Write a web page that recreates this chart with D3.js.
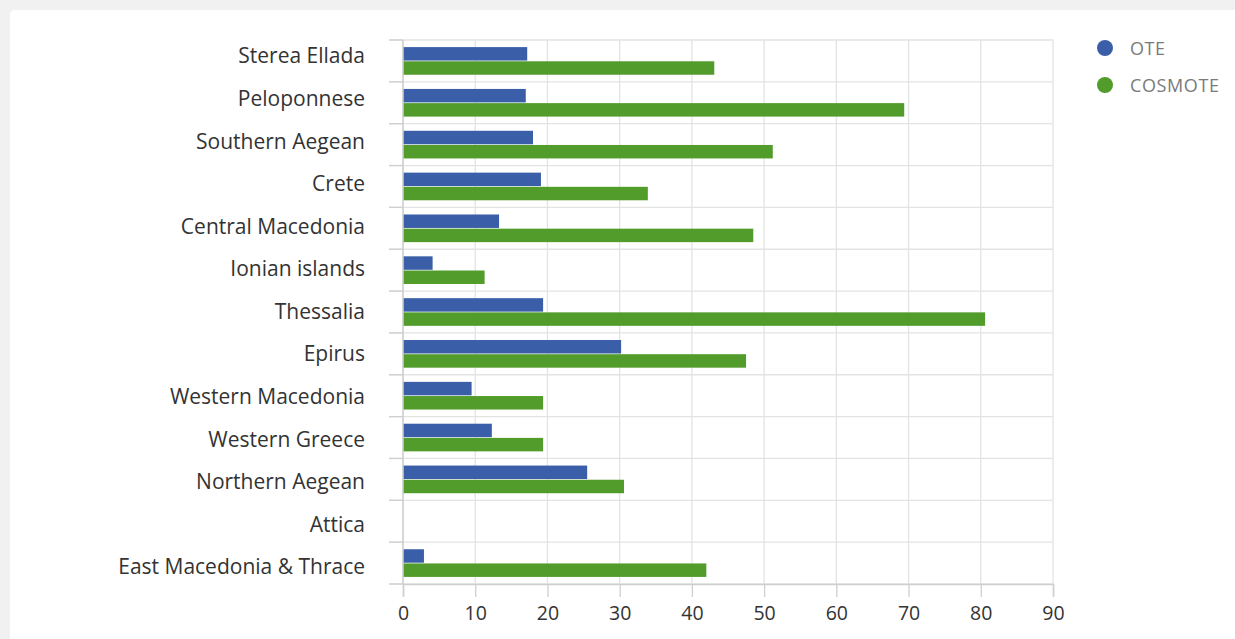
<!DOCTYPE html>
<html><head><meta charset="utf-8">
<script src="https://cdn.jsdelivr.net/npm/d3@7"></script>
<style>
html,body{margin:0;padding:0;background:#f1f1f1;overflow:hidden;}
svg{display:block;}
</style></head>
<body>
<svg id="c" width="1235" height="639"></svg>
<script>
const categories = ["Sterea Ellada","Peloponnese","Southern Aegean","Crete","Central Macedonia","Ionian islands","Thessalia","Epirus","Western Macedonia","Western Greece","Northern Aegean","Attica","East Macedonia & Thrace"];
const seriesNames = ["OTE","COSMOTE"];
const oteValues = [17.2,17.0,18.0,19.1,13.3,4.1,19.4,30.2,9.5,12.3,25.5,0,2.9];
const cosmoteValues = [43.1,69.4,51.2,33.9,48.5,11.3,80.6,47.5,19.4,19.4,30.6,0,42.0];
const xTicks = [0,10,20,30,40,50,60,70,80,90];
const colors = ["#3a5fa8","#519c2a"];

const svg = d3.select("#c");
const FONT = "'Open Sans', sans-serif";
svg.append("rect").attr("x",10).attr("y",10).attr("width",1240).attr("height",660).attr("rx",5).attr("fill","#fff");

const L = 403, R = 1053, T = 40, B = 584;
const x = d3.scaleLinear().domain([0,90]).range([L,R]);
const y = d3.scaleBand().domain(categories).range([T,B]);
const yLabel = d3.scalePoint().domain(categories).range([T+16, B-17]);
const inner = d3.scaleBand().domain(seriesNames).range([0,y.bandwidth()]).paddingOuter(0.5).paddingInner(0.05);

// vertical grid
svg.append("g").selectAll("line").data(xTicks).join("line")
  .attr("x1",d=>x(d)).attr("x2",d=>x(d)).attr("y1",T).attr("y2",B)
  .attr("stroke","#e3e3e3").attr("stroke-width",1.3);
// horizontal grid at band boundaries
const bounds = categories.map(c=>y(c)).concat([B]);
svg.append("g").selectAll("line").data(bounds).join("line")
  .attr("x1",L-14).attr("x2",R).attr("y1",d=>d).attr("y2",d=>d)
  .attr("stroke","#e3e3e3").attr("stroke-width",1.3);

// bars
const data = categories.map((c,i)=>({c, vals:[oteValues[i],cosmoteValues[i]]}));
const g = svg.append("g");
data.forEach(d=>{
  d.vals.forEach((v,j)=>{
    if(!v) return;
    g.append("rect").attr("x",x(0)).attr("y",y(d.c)+inner(seriesNames[j]))
     .attr("width",x(v)-x(0)).attr("height",inner.bandwidth()).attr("fill",colors[j]);
  });
});

// y axis
svg.append("line").attr("x1",L).attr("x2",L).attr("y1",T).attr("y2",B).attr("stroke","#cfcfcf").attr("stroke-width",1.5);
svg.append("g").selectAll("line").data(bounds).join("line")
  .attr("x1",L-14).attr("x2",L).attr("y1",d=>d).attr("y2",d=>d).attr("stroke","#cfcfcf").attr("stroke-width",1.3);
svg.append("g").selectAll("text").data(categories).join("text")
  .attr("x",365).attr("y",d=>yLabel(d)).attr("dy","0.35em")
  .attr("text-anchor","end").attr("font-family",FONT).attr("font-size",21).attr("fill","#333").text(d=>d);

// x axis
const xa = svg.append("g").attr("transform",`translate(0,${B})`)
  .call(d3.axisBottom(x).tickValues(xTicks).tickSize(13).tickPadding(9).tickFormat(d3.format("d")));
xa.select(".domain").attr("stroke","#cfcfcf").attr("stroke-width",1.5);
xa.selectAll(".tick line").attr("stroke","#cfcfcf").attr("stroke-width",1.3);
xa.selectAll("text").attr("font-family",FONT).attr("font-size",19.5).attr("fill","#333");

// legend
const lg = svg.append("g");
seriesNames.forEach((s,i)=>{
  lg.append("circle").attr("cx",1105).attr("cy",48+i*37).attr("r",8).attr("fill",colors[i]);
  lg.append("text").attr("x",1130).attr("y",49+i*37).attr("dy","0.35em")
    .attr("font-family",FONT).attr("font-size",18).attr("letter-spacing",0.6).attr("fill","#7a7a7a").text(s);
});
</script>
</body></html>
